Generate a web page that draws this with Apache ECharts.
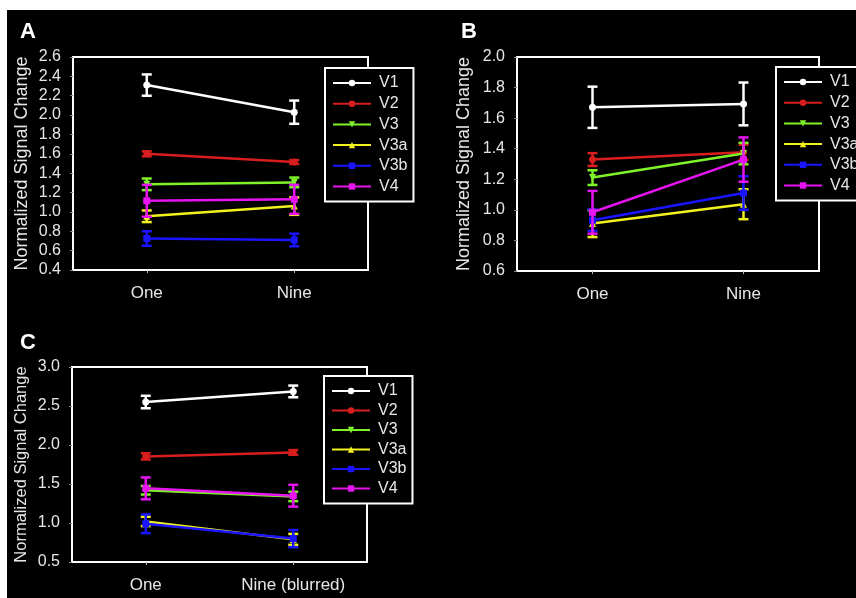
<!DOCTYPE html>
<html>
<head>
<meta charset="utf-8">
<script src="https://cdn.jsdelivr.net/npm/echarts@6/dist/echarts.min.js"></script>
<style>
  html, body { margin: 0; padding: 0; background: #fff; }
  #main { position: absolute; left: 7px; top: 10px; width: 849px; height: 588px; }
</style>
</head>
<body>
<div id="main"></div>
<script>
// data
var regions = ['V1', 'V2', 'V3', 'V3a', 'V3b', 'V4'];
var categoriesAB = ['One', 'Nine'];
var categoriesC = ['One', 'Nine (blurred)'];

var meanA = [[2.31, 2.03], [1.60, 1.515], [1.285, 1.305], [0.955, 1.06], [0.725, 0.71], [1.115, 1.13]];
var errA  = [[0.11, 0.12], [0.026, 0.02], [0.06, 0.05], [0.06, 0.09], [0.075, 0.065], [0.165, 0.15]];

var meanB = [[1.671, 1.693], [1.329, 1.377], [1.211, 1.368], [0.91, 1.037], [0.932, 1.11], [0.984, 1.329]];
var errB  = [[0.135, 0.14], [0.042, 0.05], [0.048, 0.07], [0.088, 0.098], [0.07, 0.11], [0.14, 0.145]];

var meanC = [[2.551, 2.687], [1.854, 1.905], [1.42, 1.34], [1.02, 0.79], [0.99, 0.80], [1.444, 1.35]];
var errC  = [[0.08, 0.075], [0.04, 0.03], [0.055, 0.06], [0.06, 0.07], [0.12, 0.11], [0.14, 0.14]];

var colors = ['#ffffff', '#d81e1e', '#7ff22a', '#f2f21e', '#1a14ff', '#e614f0'];
var symbols = ['circle', 'circle', 'triangle', 'triangle', 'rect', 'rect'];
var symbolRot = [0, 0, 180, 0, 0, 0];

var font = 'Arial, "Liberation Sans", sans-serif';
var textColor = '#e6e6e6';

var chart = echarts.init(document.getElementById('main'));

function errorItem(params, api) {
    var idx = api.value(0);
    var top = api.coord([idx, api.value(2)]);
    var bot = api.coord([idx, api.value(1)]);
    var c = api.visual('color');
    var w = 5;
    var st = { stroke: c, lineWidth: 2.5 };
    return {
        type: 'group',
        children: [
            { type: 'line', shape: { x1: top[0], y1: top[1], x2: bot[0], y2: bot[1] }, style: st },
            { type: 'line', shape: { x1: top[0] - w, y1: top[1], x2: top[0] + w, y2: top[1] }, style: st },
            { type: 'line', shape: { x1: bot[0] - w, y1: bot[1], x2: bot[0] + w, y2: bot[1] }, style: st }
        ]
    };
}

var grids = [
    { left: 66, top: 47, width: 295, height: 213 },
    { left: 510, top: 47, width: 302, height: 214 },
    { left: 65, top: 357, width: 295, height: 195 }
];
var yRanges = [[0.4, 2.6, 0.2], [0.6, 2.0, 0.2], [0.5, 3.0, 0.5]];
var nameSizes = [18, 18, 16.5];
var nameGaps = [42, 44, 42];
var xCats = [categoriesAB, categoriesAB, categoriesC];
var means = [meanA, meanB, meanC];
var errs = [errA, errB, errC];

var xAxes = [], yAxes = [], series = [];
for (var g = 0; g < 3; g++) {
    xAxes.push({
        type: 'category',
        gridIndex: g,
        data: xCats[g],
        axisLine: { show: false },
        axisTick: { show: true, alignWithLabel: true, length: 3, lineStyle: { color: '#bbb' } },
        axisLabel: { color: textColor, fontSize: 17, fontFamily: font, margin: 15 }
    });
    yAxes.push({
        type: 'value',
        gridIndex: g,
        min: yRanges[g][0],
        max: yRanges[g][1],
        interval: yRanges[g][2],
        name: 'Normalized Signal Change',
        nameLocation: 'middle',
        nameGap: nameGaps[g],
        nameTextStyle: { color: textColor, fontSize: nameSizes[g], fontFamily: font },
        splitLine: { show: false },
        axisLine: { show: false },
        axisTick: { show: true, length: 3, lineStyle: { color: '#888' } },
        axisLabel: {
            color: textColor, fontSize: 16, fontFamily: font, margin: 12,
            formatter: function (v) { return v.toFixed(1); }
        }
    });
    for (var i = 0; i < regions.length; i++) {
        var m = means[g][i], e = errs[g][i];
        var bars = [];
        for (var k = 0; k < m.length; k++) {
            bars.push([k, m[k] - e[k], m[k] + e[k]]);
        }
        series.push({
            name: regions[i] + ' err',
            type: 'custom',
            xAxisIndex: g,
            yAxisIndex: g,
            itemStyle: { color: colors[i] },
            renderItem: errorItem,
            encode: { x: 0, y: [1, 2] },
            data: bars,
            z: 2 + i
        });
        series.push({
            name: regions[i],
            type: 'line',
            xAxisIndex: g,
            yAxisIndex: g,
            data: m,
            symbol: symbols[i],
            symbolRotate: symbolRot[i],
            symbolSize: 7,
            showAllSymbol: true,
            lineStyle: { color: colors[i], width: 2.5 },
            itemStyle: { color: colors[i] },
            z: 2 + i
        });
    }
}

var legendBase = {
    orient: 'vertical',
    data: regions,
    itemWidth: 38,
    itemHeight: 8,
    backgroundColor: '#000',
    borderColor: '#fff',
    borderWidth: 2,
    borderRadius: 0,
    selectedMode: false,
    textStyle: { color: textColor, fontSize: 16, fontFamily: font, padding: [0, 0, 0, 3] },
    z: 10
};

var option = {
    backgroundColor: '#000',
    animation: false,
    title: [
        { text: 'A', left: 8, top: 6, textStyle: { color: '#fff', fontSize: 22, fontWeight: 'bold', fontFamily: font } },
        { text: 'B', left: 449, top: 6, textStyle: { color: '#fff', fontSize: 22, fontWeight: 'bold', fontFamily: font } },
        { text: 'C', left: 8, top: 317, textStyle: { color: '#fff', fontSize: 22, fontWeight: 'bold', fontFamily: font } }
    ],
    grid: grids.map(function (gr) {
        return Object.assign({ show: true, borderColor: '#fff', borderWidth: 2, backgroundColor: 'transparent' }, gr);
    }),
    legend: [
        Object.assign({}, legendBase, { left: 318, top: 58, padding: [7, 6, 7, 7], itemGap: 4.7 }),
        Object.assign({}, legendBase, { left: 769, top: 57, padding: [7, 6, 7, 7], itemGap: 4.7 }),
        Object.assign({}, legendBase, { left: 317, top: 366, padding: [7, 6, 7, 7], itemGap: 3.5 })
    ],
    xAxis: xAxes,
    yAxis: yAxes,
    series: series
};

chart.setOption(option);
window.addEventListener('resize', function () {
    chart.resize();
});
</script>
</body>
</html>
